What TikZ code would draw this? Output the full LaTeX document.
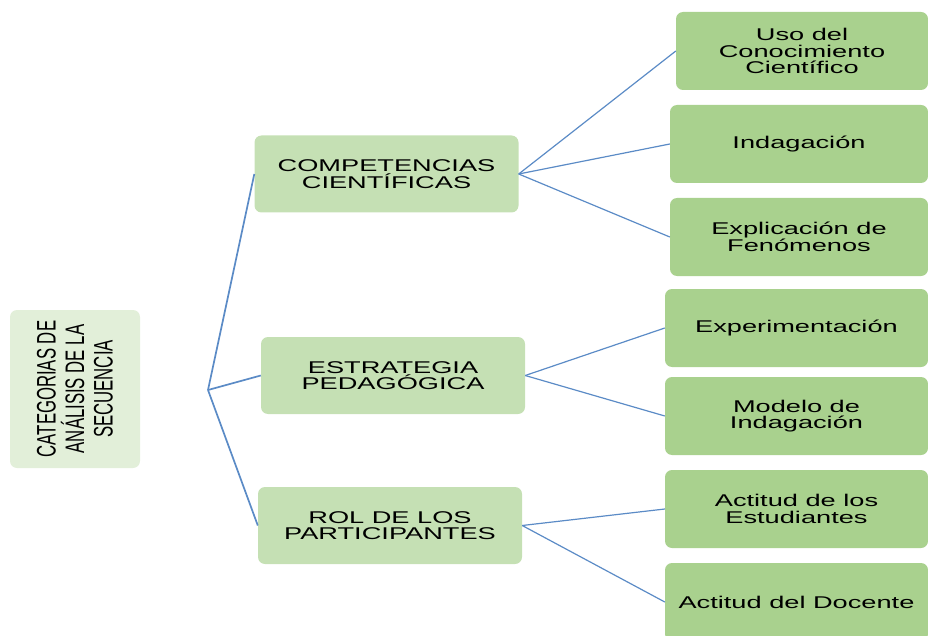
\documentclass[tikz,border=0pt]{standalone}
\usepackage{fontspec}
\setmainfont{Liberation Sans}[FakeStretch=1.6]
\newfontfamily\rootfont{Liberation Sans}[FakeStretch=0.625]
\usetikzlibrary{positioning}

\definecolor{rootgreen}{HTML}{E2EFD9}
\definecolor{midgreen}{HTML}{C5E0B4}
\definecolor{leafgreen}{HTML}{A9D18E}
\definecolor{linkblue}{HTML}{5B8BC6}

\tikzset{
  box/.style = {rounded corners=7pt, align=center, text=black,
                font=\fontsize{17}{16.5}\selectfont, inner sep=0pt},
  rootbox/.style = {box, fill=rootgreen, minimum width=158pt, minimum height=130pt,
                    rotate=90, font=\rootfont\fontsize{26.8}{28.5}\selectfont},
  midbox/.style = {box, fill=midgreen, minimum width=264pt, minimum height=77pt},
  leafbox/.style = {box, fill=leafgreen, minimum width=263pt, minimum height=78pt},
  link/.style = {draw=linkblue, line width=1.2pt},
  trunk/.style = {link, line width=1.7pt}
}

\begin{document}
\begin{tikzpicture}[x=1pt, y=-1pt]
  \useasboundingbox (0,0) rectangle (928,636);
  \clip (0,0) rectangle (928,636);

  % root
  \node [rootbox] (cat) at (75,389) {CATEGORIAS DE\\ANÁLISIS DE LA\\SECUENCIA};
  \coordinate (fork) at (208,390);

  % second level
  \node [midbox] (comp) at (386.5,174) {COMPETENCIAS\\CIENTÍFICAS};
  \node [midbox] (estr) at (393,375.5) {ESTRATEGIA\\PEDAGÓGICA};
  \node [midbox] (rol)  at (390,525.5) {ROL DE LOS\\PARTICIPANTES};

  % third level
  \node [leafbox, minimum width=252pt] (uso) at (802,51) {Uso del\\Conocimiento\\Científico};
  \node [leafbox, minimum width=258pt] (inda) at (799,144) {Indagación};
  \node [leafbox, minimum width=258pt] (expl) at (799,237) {Explicación de\\Fenómenos};
  \node [leafbox] (expe) at (796.5,328) {Experimentación};
  \node [leafbox] (mode) at (796.5,416) {Modelo de\\Indagación};
  \node [leafbox] (estu) at (796.5,509) {Actitud de los\\Estudiantes};
  \node [leafbox] (doce) at (796.5,602) {Actitud del Docente};

  % connectors
  \draw [trunk] (fork) -- (comp.west);
  \draw [trunk] (fork) -- (estr.west);
  \draw [trunk] (fork) -- (rol.west);

  \draw [link] (comp.east) -- (uso.west);
  \draw [link] (comp.east) -- (inda.west);
  \draw [link] (comp.east) -- (expl.west);
  \draw [link] (estr.east) -- (expe.west);
  \draw [link] (estr.east) -- (mode.west);
  \draw [link] (rol.east) -- (estu.west);
  \draw [link] (rol.east) -- (doce.west);
\end{tikzpicture}
\end{document}
